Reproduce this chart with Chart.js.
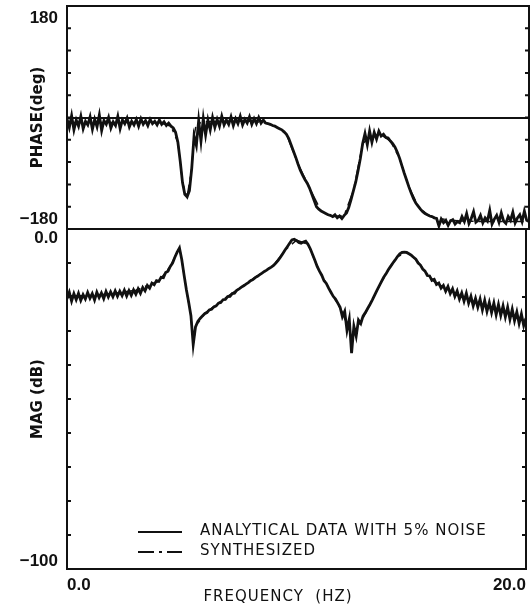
<!DOCTYPE html>
<html lang="en">
<head>
<meta charset="UTF-8" />
<title>Phase and magnitude vs frequency</title>
<script src="https://cdn.jsdelivr.net/npm/chart.js"></script>
<style>
body { margin: 0; background: #fff; }
#wrap { position: relative; width: 532px; height: 607px; }
#wrap canvas { position: absolute; left: 0; top: 0; }
</style>
</head>
<body>
<div id="wrap">
  <canvas id="phaseChart" width="532" height="607"></canvas>
  <canvas id="magChart" width="532" height="607"></canvas>
</div>
<script>
// measured response, 0.1 Hz spacing
const freqHz = [
  0.0,0.1,0.2,0.3,0.4,0.5,0.6,0.7,0.8,0.9,
  1.0,1.1,1.2,1.3,1.4,1.5,1.6,1.7,1.8,1.9,
  2.0,2.1,2.2,2.3,2.4,2.5,2.6,2.7,2.8,2.9,
  3.0,3.1,3.2,3.3,3.4,3.5,3.6,3.7,3.8,3.9,
  4.0,4.1,4.2,4.3,4.4,4.5,4.6,4.7,4.8,4.9,
  5.0,5.1,5.2,5.3,5.4,5.5,5.6,5.7,5.8,5.9,
  6.0,6.1,6.2,6.3,6.4,6.5,6.6,6.7,6.8,6.9,
  7.0,7.1,7.2,7.3,7.4,7.5,7.6,7.7,7.8,7.9,
  8.0,8.1,8.2,8.3,8.4,8.5,8.6,8.7,8.8,8.9,
  9.0,9.1,9.2,9.3,9.4,9.5,9.6,9.7,9.8,9.9,
  10.0,10.1,10.2,10.3,10.4,10.5,10.6,10.7,10.8,10.9,
  11.0,11.1,11.2,11.3,11.4,11.5,11.6,11.7,11.8,11.9,
  12.0,12.1,12.2,12.3,12.4,12.5,12.6,12.7,12.8,12.9,
  13.0,13.1,13.2,13.3,13.4,13.5,13.6,13.7,13.8,13.9,
  14.0,14.1,14.2,14.3,14.4,14.5,14.6,14.7,14.8,14.9,
  15.0,15.1,15.2,15.3,15.4,15.5,15.6,15.7,15.8,15.9,
  16.0,16.1,16.2,16.3,16.4,16.5,16.6,16.7,16.8,16.9,
  17.0,17.1,17.2,17.3,17.4,17.5,17.6,17.7,17.8,17.9,
  18.0,18.1,18.2,18.3,18.4,18.5,18.6,18.7,18.8,18.9,
  19.0,19.1,19.2,19.3,19.4,19.5,19.6,19.7,19.8,19.9,
  20.0
];
const phaseDeg = [
  -2,-16,3,-20,-4,-14,2,-18,-6,-12,
  1,-19,-3,-15,4,-21,-5,-11,0,-17,
  -7,-13,2,-18,-4,-10,-1,-15,-6,-12,
  -3,-14,-2,-11,-5,-13,-3,-10,-6,-12,
  -4,-11,-7,-13,-9,-14,-17,-24,-40,-70,
  -105,-124,-128,-118,-82,-30,-45,-5,-38,-2,
  -28,-4,-20,0,-16,-3,-14,2,-12,-4,
  -11,1,-13,-2,-10,2,-12,-3,-9,1,
  -11,-2,-10,0,-9,-4,-9,-10,-11,-13,
  -14,-16,-18,-20,-23,-27,-34,-44,-54,-64,
  -75,-85,-93,-100,-106,-114,-124,-134,-144,-148,
  -151,-153,-155,-157,-158,-160,-157,-162,-159,-163,
  -158,-154,-145,-132,-118,-104,-86,-66,-42,-26,
  -44,-22,-40,-24,-35,-22,-30,-27,-32,-33,
  -38,-42,-48,-56,-66,-78,-90,-101,-112,-122,
  -131,-138,-143,-148,-152,-155,-157,-159,-160,-162,
  -163,-175,-164,-170,-166,-174,-167,-165,-172,-168,
  -170,-160,-168,-155,-171,-163,-152,-169,-166,-158,
  -170,-162,-167,-150,-172,-164,-158,-169,-154,-167,
  -171,-160,-166,-153,-170,-162,-157,-168,-151,-166,
  -168
];
const magDb = [
  -20.5,-18.6,-21.2,-19.0,-20.8,-18.9,-21.0,-19.3,-20.6,-18.7,
  -20.4,-19.0,-20.9,-18.6,-20.2,-18.8,-20.5,-18.4,-20.0,-18.5,
  -19.9,-18.2,-19.8,-18.3,-19.6,-18.0,-19.7,-18.1,-19.5,-17.9,
  -19.2,-17.6,-18.9,-17.2,-18.2,-16.6,-17.4,-15.9,-16.4,-15.2,
  -15.4,-14.2,-14.3,-12.8,-12.4,-11.0,-10.0,-8.3,-6.8,-5.6,
  -9.0,-13.5,-17.8,-21.5,-25.5,-34.0,-28.8,-27.2,-26.3,-25.6,
  -24.9,-24.6,-23.8,-23.6,-22.9,-22.6,-21.8,-21.6,-20.8,-20.7,
  -19.9,-19.8,-19.0,-18.9,-18.0,-17.6,-17.1,-16.7,-16.2,-15.8,
  -15.2,-14.9,-14.3,-13.9,-13.4,-13.0,-12.5,-12.1,-11.6,-11.2,
  -10.7,-10.0,-9.2,-8.3,-7.3,-6.2,-5.2,-4.2,-3.2,-3.0,
  -3.4,-4.0,-4.2,-3.8,-3.6,-4.5,-5.8,-7.5,-9.2,-11.0,
  -12.4,-13.6,-15.2,-16.0,-17.4,-18.6,-19.8,-20.6,-21.8,-23.0,
  -25.8,-24.2,-29.8,-26.5,-36.5,-28.6,-31.5,-26.8,-27.8,-25.6,
  -24.6,-23.4,-22.2,-20.9,-19.5,-18.1,-16.8,-15.5,-14.2,-13.2,
  -12.0,-11.0,-10.0,-9.1,-8.1,-7.3,-6.9,-6.8,-6.9,-7.3,
  -7.7,-8.3,-8.9,-10.0,-10.6,-11.8,-12.4,-13.7,-13.8,-15.1,
  -14.8,-16.3,-15.9,-17.4,-16.6,-18.3,-16.9,-19.0,-17.6,-19.8,
  -18.2,-20.6,-18.8,-21.2,-18.9,-21.8,-19.8,-22.6,-20.4,-23.0,
  -20.6,-23.8,-21.0,-24.2,-21.6,-24.6,-21.8,-25.2,-22.2,-25.4,
  -22.6,-25.9,-23.0,-26.6,-23.6,-27.0,-24.4,-27.8,-25.0,-28.4,
  -26.2
];

// synthesized model, coarser spacing
const synthHz    = [0, 1, 2, 3, 4, 4.5, 4.8, 4.9, 5.0, 5.2, 5.4, 5.5, 5.6, 6, 7, 8, 8.6, 9, 9.5, 10, 10.5, 11, 11.5, 12, 12.4, 12.8, 13.2, 13.6, 14, 14.4, 14.8, 15.2, 15.6, 16, 17, 18, 19, 20];
const synthPhase = [-8, -8, -8, -8, -8, -14, -40, -70, -105, -128, -82, -30, -10, -7, -6, -6, -9, -14, -27, -75, -114, -151, -160, -158, -118, -42, -30, -28, -38, -66, -112, -143, -157, -163, -167, -168, -168, -168];
const synthMag   = [-19.6, -19.6, -19.0, -18.0, -15.3, -11.0, -6.8, -5.6, -9.0, -17.8, -25.5, -34.0, -28.8, -24.8, -19.8, -15.1, -12.5, -10.7, -6.2, -3.3, -4.5, -12.4, -18.6, -24.5, -32.0, -27.5, -22.2, -16.8, -12.0, -8.1, -6.9, -8.9, -12.4, -15.5, -19.5, -22.0, -24.5, -27.3];

const phaseTicks = ['180', '\u2212180'];
const magTicks = ['0.0', '\u2212100'];
const freqTicks = ['0.0', '20.0'];
const seriesNames = ['ANALYTICAL DATA WITH 5% NOISE', 'SYNTHESIZED'];

const INK = '#111';
const NUM_FONT = 'bold 17px "Liberation Sans"';
const TXT_FONT = '15px "DejaVu Sans"';

const pts = (xs, ys) => xs.map((x, i) => ({ x: x, y: ys[i] }));

// box, inside tick marks, end labels, legend and x title
const framePlugin = {
  id: 'frame',
  afterDraw(chart, args, opts) {
    const ctx = chart.ctx;
    const a = chart.chartArea;
    const ys = chart.scales.y;
    ctx.save();
    ctx.strokeStyle = INK;
    ctx.lineWidth = 2;
    ctx.strokeRect(a.left, a.top, a.right - a.left, a.bottom - a.top);
    ys.ticks.forEach((t, i) => {
      if (i === 0 || i === ys.ticks.length - 1) return;
      const py = ys.getPixelForValue(t.value);
      ctx.beginPath();
      ctx.moveTo(a.left, py); ctx.lineTo(a.left + 4, py);
      ctx.moveTo(a.right, py); ctx.lineTo(a.right - 4, py);
      ctx.stroke();
    });

    ctx.fillStyle = INK;
    ctx.font = NUM_FONT;
    ctx.textAlign = 'right';
    ctx.textBaseline = 'middle';
    ctx.fillText(opts.labels[0], a.left - 9, ys.getPixelForValue(ys.max) + opts.inset[0]);
    ctx.fillText(opts.labels[1], a.left - 9, ys.getPixelForValue(ys.min) - opts.inset[1]);

    if (opts.legend) {
      ctx.font = TXT_FONT;
      ctx.letterSpacing = '1px';
      ctx.textAlign = 'left';
      chart.data.datasets.forEach((ds, i) => {
        const ly = 531 + i * 20;
        ctx.beginPath();
        ctx.setLineDash(ds.borderDash || []);
        ctx.lineWidth = 2;
        ctx.moveTo(138, ly + 1); ctx.lineTo(182, ly + 1);
        ctx.stroke();
        ctx.setLineDash([]);
        ctx.fillText(ds.label, 200, ly);
      });
      ctx.textAlign = 'center';
      ctx.fillText('FREQUENCY  (HZ)', 278, 597);
    }
    ctx.restore();
  }
};

const yTitle = text => ({
  display: true, text: text, color: INK,
  font: { family: 'DejaVu Sans', size: 15, weight: 'bold' },
  padding: { top: 29, bottom: 0 }
});

new Chart(document.getElementById('phaseChart'), {
  type: 'line',
  data: {
    datasets: [
      { label: seriesNames[0], data: pts(freqHz, phaseDeg), borderColor: INK, borderWidth: 2.8, pointRadius: 0 },
      { label: seriesNames[1], data: pts(synthHz, synthPhase), borderColor: INK, borderWidth: 1.5, borderDash: [16, 5, 3, 5], pointRadius: 0 }
    ]
  },
  options: {
    responsive: false, animation: false,
    layout: { padding: { top: 6, bottom: 378, left: 0, right: 3 } },
    plugins: { legend: { display: false }, tooltip: { enabled: false },
      frame: { labels: phaseTicks, inset: [12, 10] } },
    scales: {
      x: { type: 'linear', min: 0, max: 20, display: false },
      y: {
        min: -180, max: 180,
        ticks: { stepSize: 36, display: false },
        grid: { drawTicks: false, lineWidth: 2,
          color: c => (c.tick && c.tick.value === 0) ? INK : 'rgba(0,0,0,0)' },
        border: { display: false },
        title: yTitle('PHASE(deg)'),
        afterFit: s => { s.width = 67; }
      }
    }
  },
  plugins: [framePlugin]
});

new Chart(document.getElementById('magChart'), {
  type: 'line',
  data: {
    datasets: [
      { label: seriesNames[0], data: pts(freqHz, magDb), borderColor: INK, borderWidth: 2.8, pointRadius: 0 },
      { label: seriesNames[1], data: pts(synthHz, synthMag), borderColor: INK, borderWidth: 1.5, borderDash: [16, 5, 3, 5], pointRadius: 0 }
    ]
  },
  options: {
    responsive: false, animation: false,
    layout: { padding: { top: 229, bottom: 0, left: 0, right: 3 } },
    plugins: { legend: { display: false }, tooltip: { enabled: false },
      frame: { labels: magTicks, inset: [9, 8], legend: true } },
    scales: {
      x: {
        type: 'linear', min: 0, max: 20,
        afterBuildTicks: s => { s.ticks = [{ value: 0 }, { value: 20 }]; },
        ticks: { callback: (v, i) => freqTicks[i], align: 'inner', padding: 6, maxRotation: 0,
          color: INK, font: { family: 'Liberation Sans', size: 17, weight: 'bold' } },
        grid: { display: false, drawTicks: false },
        border: { display: false },
        afterFit: s => { s.height = 38; }
      },
      y: {
        min: -100, max: 0,
        ticks: { stepSize: 10, display: false },
        grid: { display: false, drawTicks: false },
        border: { display: false },
        title: yTitle('MAG (dB)'),
        afterFit: s => { s.width = 67; }
      }
    }
  },
  plugins: [framePlugin]
});
</script>
</body>
</html>
